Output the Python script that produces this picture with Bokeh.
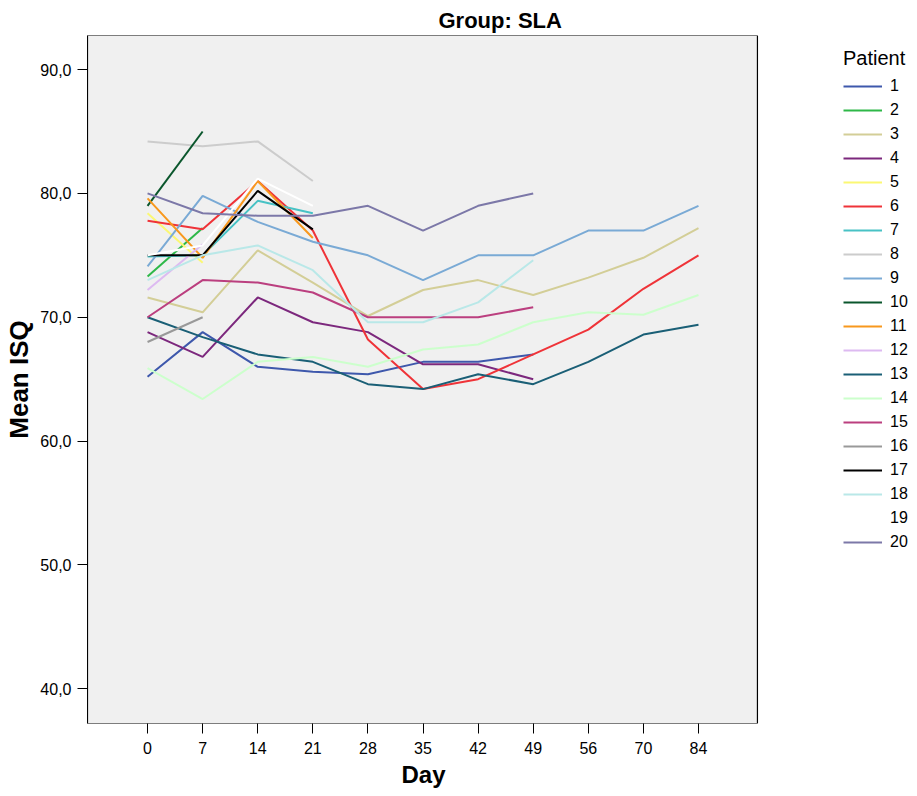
from bokeh.plotting import figure
from bokeh.models import Range1d, Legend, LegendItem, FixedTicker, BoxAnnotation, Title
from bokeh.embed import file_html
from bokeh.resources import INLINE

days = ["0", "7", "14", "21", "28", "35", "42", "49", "56", "70", "84"]
y_ticks = [40, 50, 60, 70, 80, 90]
y_tick_labels = ["40,0", "50,0", "60,0", "70,0", "80,0", "90,0"]

patient_labels = [str(i) for i in range(1, 21)]

p1 = [65.2, 68.8, 66.0, 65.6, 65.4, 66.4, 66.4, 67.0]
p2 = [73.3, 77.2]
p3 = [71.6, 70.4, 75.4, 72.8, 70.1, 72.2, 73.0, 71.8, 73.2, 74.8, 77.2]
p4 = [68.8, 66.8, 71.6, 69.6, 68.8, 66.2, 66.2, 65.0]
p5 = [78.4, 74.4]
p6 = [77.8, 77.1, 81.0, 77.0, 68.2, 64.2, 65.0, 67.0, 69.0, 72.3, 75.0]
p7 = [74.9, 75.0, 79.4, 78.4]
p8 = [84.2, 83.8, 84.2, 81.0]
p9 = [74.1, 79.8, 77.7, 76.1, 75.0, 73.0, 75.0, 75.0, 77.0, 77.0, 79.0]
p10 = [79.0, 85.0]
p11 = [79.6, 74.8, 81.0, 76.4]
p12 = [72.2, 75.9]
p13 = [70.0, 68.4, 67.0, 66.4, 64.6, 64.2, 65.4, 64.6, 66.4, 68.6, 69.4]
p14 = [65.9, 63.4, 66.4, 66.8, 66.0, 67.4, 67.8, 69.6, 70.4, 70.2, 71.8]
p15 = [70.0, 73.0, 72.8, 72.0, 70.0, 70.0, 70.0, 70.8]
p16 = [68.0, 70.0]
p17 = [75.0, 75.0, 80.2, 77.1]
p18 = [73.0, 75.0, 75.8, 73.8, 69.6, 69.6, 71.2, 74.6]
p19 = [75.0, 75.8, 81.2, 79.0]
p20 = [80.0, 78.4, 78.2, 78.2, 79.0, 77.0, 79.0, 80.0]

series = [p1, p2, p3, p4, p5, p6, p7, p8, p9, p10,
          p11, p12, p13, p14, p15, p16, p17, p18, p19, p20]

colors = ["#3E58AC", "#2EB848", "#D3CE97", "#7C287D", "#FBF873",
          "#EF3338", "#48C2C5", "#CCCCCC", "#7AAAD5", "#0A562C",
          "#F8981D", "#DDBAF1", "#1A5F76", "#CCFFCC", "#BB3F7F",
          "#999999", "#000000", "#B9E8E8", "#FFFFFF", "#7C78A8"]

FONT = "Liberation Sans"

# category positions 0..n-1; the grey plotting panel is padded around them,
# the white space to its right holds the legend
n = len(days)
PAD_L = 1.09
PAD_R = 1.07
X_END = 13.83

p = figure(
    frame_width=822, frame_height=688,
    x_range=Range1d(-PAD_L, X_END),
    y_range=Range1d(37.2, 92.75),
    output_backend="svg", toolbar_location=None,
    min_border_left=87, min_border_right=0, min_border_top=35, min_border_bottom=60,
    background_fill_color="white", border_fill_color="white",
    title="Group: SLA",
)
p.outline_line_color = None
p.grid.visible = False

panel = BoxAnnotation(left=-PAD_L, right=n - 1 + PAD_R,
                      fill_color="#F0F0F0", fill_alpha=1.0,
                      line_color="black", line_width=1.2, line_alpha=1.0,
                      level="underlay")
p.add_layout(panel)

p.title.text_font = FONT
p.title.text_font_size = "22px"
p.title.text_font_style = "bold"
p.title.text_color = "black"
p.title.align = "left"
p.title.offset = 351
p.title.standoff = 5

for ax in (p.xaxis[0], p.yaxis[0]):
    ax.major_label_text_font = FONT
    ax.major_label_text_font_size = "16px"
    ax.major_label_text_color = "black"
    ax.axis_label_text_font = FONT
    ax.axis_label_text_font_style = "bold"
    ax.axis_label_text_color = "black"
    ax.major_tick_in = 0
    ax.major_tick_out = 10
    ax.major_tick_line_color = "black"
    ax.minor_tick_line_color = None

p.xaxis.ticker = FixedTicker(ticks=list(range(n)))
p.xaxis.major_label_overrides = {i: d for i, d in enumerate(days)}
p.xaxis.axis_line_color = None
p.xaxis.major_label_standoff = 8

# x-axis title, centred under the grey panel (not under the whole frame)
x_title = Title(text="Day", align="left", offset=314, standoff=4,
                text_font=FONT, text_font_size="24px", text_font_style="bold",
                text_color="black")
p.add_layout(x_title, "below")

p.yaxis.axis_label = "Mean ISQ"
p.yaxis.axis_label_text_font_size = "26px"
p.yaxis.axis_line_color = "black"
p.yaxis.ticker = FixedTicker(ticks=y_ticks)
p.yaxis.major_label_overrides = {t: lab for t, lab in zip(y_ticks, y_tick_labels)}
p.yaxis.major_label_standoff = 6
p.yaxis.axis_label_standoff = 3

items = []
for lab, vals, col in zip(patient_labels, series, colors):
    xs = [days.index(d) for d in days[:len(vals)]]
    r = p.line(x=xs, y=vals, line_color=col, line_width=2)
    items.append(LegendItem(label=lab, renderers=[r]))

legend = Legend(
    items=items, title="Patient",
    location=(756, 171),
    title_text_font=FONT, title_text_font_size="20px", title_text_font_style="normal",
    title_text_color="black",
    title_standoff=6,
    label_text_font=FONT, label_text_font_size="16px", label_text_color="black",
    glyph_width=39, glyph_height=20, label_height=20, spacing=4, label_standoff=8,
    padding=0, margin=0,
    border_line_alpha=0, background_fill_alpha=0,
)
p.add_layout(legend, "center")

open("out.html", "w").write(file_html(p, INLINE))
